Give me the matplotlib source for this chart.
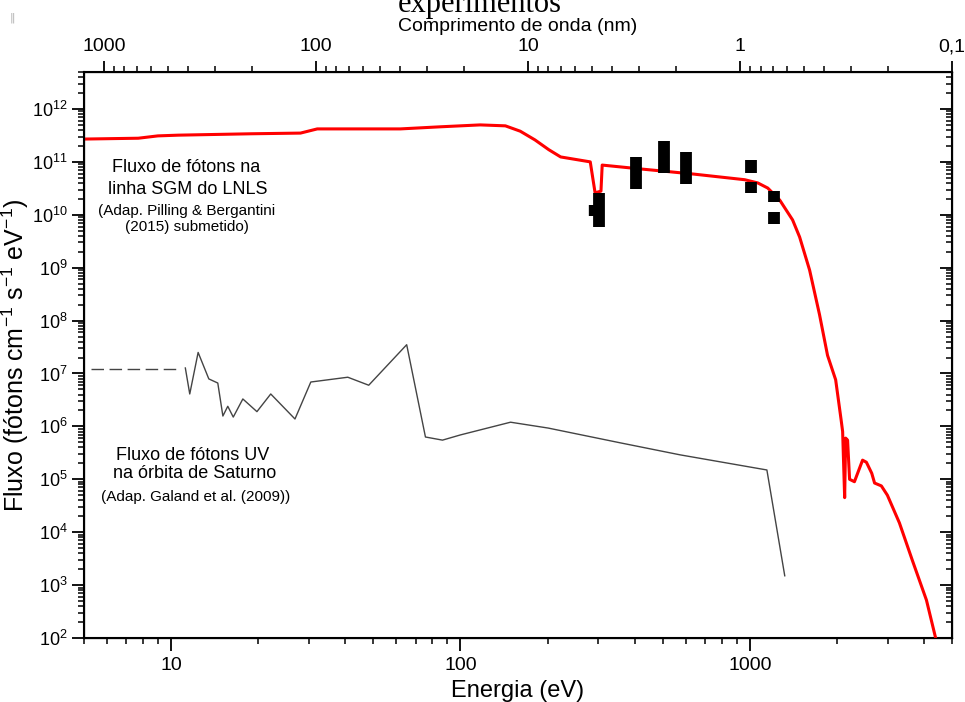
import matplotlib
matplotlib.use("Agg")
import matplotlib.pyplot as plt
from matplotlib.ticker import FixedLocator, FixedFormatter, LogLocator, NullFormatter

# Fluxo na linha SGM do LNLS (curva vermelha)
red_E = [5, 7.7, 9, 10.6, 19, 28, 32, 62, 85, 117, 143, 161, 181, 202, 222, 281,
         292, 306, 309, 425, 530, 636, 961, 1066, 1154, 1269, 1406, 1487, 1610,
         1742, 1857, 1981, 2070, 2094, 2128, 2145, 2178, 2213, 2300, 2454, 2530,
         2640, 2700, 2850, 2990, 3290, 3650, 4080, 4380, 4500]
red_F = [2.7e11, 2.8e11, 3.1e11, 3.2e11, 3.4e11, 3.5e11, 4.2e11, 4.2e11, 4.6e11,
         5.0e11, 4.8e11, 3.8e11, 2.6e11, 1.7e11, 1.24e11, 1.0e11, 2.6e10, 2.8e10,
         8.7e10, 7.3e10, 6.5e10, 5.9e10, 4.6e10, 4.0e10, 3.2e10, 1.9e10, 8e9,
         3.8e9, 9e8, 1.3e8, 2.2e7, 7.6e6, 1.3e6, 8e5, 4.5e4, 6e5, 5.5e5, 1e5, 9e4,
         2.3e5, 2.1e5, 1.3e5, 8.5e4, 7.5e4, 5e4, 1.5e4, 2.9e3, 520, 105, 60]

# Fluxo UV na órbita de Saturno (curva cinza)
sat_dash_E = [5.3, 10.8]
sat_dash_F = [1.2e7, 1.2e7]
sat_E = [11.2, 11.6, 12.4, 13.5, 14.5, 15.1, 15.7, 16.4, 17.7, 19.8, 22.1, 26.8,
         30.4, 40.8, 48.2, 65.2, 75.7, 86.7, 100, 149, 201, 356, 574, 1146, 1321]
sat_F = [1.27e7, 4.1e6, 2.5e7, 7.9e6, 6.6e6, 1.57e6, 2.4e6, 1.5e6, 3.3e6, 1.9e6,
         4.1e6, 1.38e6, 6.9e6, 8.5e6, 6.0e6, 3.5e7, 6.3e5, 5.5e5, 6.9e5, 1.2e6,
         9.3e5, 4.9e5, 2.9e5, 1.5e5, 1.5e3]

# barras pretas (experimentos)
bar_E = [288, 301, 404, 505, 601, 1007, 1007, 1210, 1210]
bar_lo = [9.5e9, 5.9e9, 3.1e10, 6.2e10, 3.8e10, 6.2e10, 2.6e10, 1.75e10, 6.7e9]
bar_hi = [1.53e10, 2.6e10, 1.24e11, 2.5e11, 1.54e11, 1.09e11, 4.2e10, 2.8e10, 1.13e10]

x_ticks = [10, 100, 1000]
x_labels = ["10", "100", "1000"]
top_ticks = [1000, 100, 10, 1, 0.1]
top_labels = ["1000", "100", "10", "1", "0,1"]

plt.rcParams["font.family"] = ["Liberation Sans", "DejaVu Sans"]
plt.rcParams["mathtext.fontset"] = "custom"
plt.rcParams["mathtext.rm"] = "Liberation Sans"
plt.rcParams["mathtext.it"] = "Liberation Sans:italic"
plt.rcParams["mathtext.bf"] = "Liberation Sans:bold"

W, H = 965, 702
fig = plt.figure(figsize=(W / 100, H / 100), dpi=100)
ax = fig.add_axes([84 / W, 1 - 638 / H, (952 - 84) / W, (638 - 72) / H])

ax.plot(sat_dash_E, sat_dash_F, color="#444444", lw=1.0, dashes=(9, 4))
ax.plot(sat_E, sat_F, color="#444444", lw=1.0)
ax.plot(red_E, red_F, color="#ff0000", lw=2.2, zorder=3)
ax.vlines(bar_E, bar_lo, bar_hi, colors="black",
          linewidths=[6, 8.5, 8.5, 8.5, 8.5, 8.5, 8.5, 8.5, 8.5], zorder=4)

ax.set_xscale("log")
ax.set_yscale("log")
ax.set_xlim(5, 5000)
ax.set_ylim(1e2, 5e12)

ax.xaxis.set_major_locator(FixedLocator(x_ticks))
ax.xaxis.set_major_formatter(FixedFormatter(x_labels))
ax.xaxis.set_minor_locator(LogLocator(base=10, subs=range(2, 10)))
ax.xaxis.set_minor_formatter(NullFormatter())
ax.yaxis.set_major_locator(LogLocator(base=10, numticks=20))
ax.yaxis.set_minor_locator(LogLocator(base=10, subs=range(2, 10), numticks=20))
ax.yaxis.set_minor_formatter(NullFormatter())

ax.tick_params(which="major", direction="out", length=9, width=1.3, labelsize=14, pad=5)
ax.tick_params(axis="y", which="major", labelsize=13, pad=3)
ax.tick_params(which="minor", direction="out", length=4.5, width=1.1)
for s in ax.spines.values():
    s.set_linewidth(1.5)

ax.set_xlabel("Energia (eV)", fontsize=17, labelpad=4)
ax.set_ylabel(r"Fluxo (fótons cm$^{-1}$ s$^{-1}$ eV$^{-1}$)", fontsize=18)
ax.yaxis.set_label_coords(-0.061, 0.5)

# eixo direito: ticks para dentro
axr = ax.twinx()
axr.set_yscale("log")
axr.set_ylim(ax.get_ylim())
axr.yaxis.set_major_locator(LogLocator(base=10, numticks=20))
axr.yaxis.set_minor_locator(LogLocator(base=10, subs=range(2, 10), numticks=20))
axr.tick_params(which="major", direction="in", length=9, width=1.3, labelright=False)
axr.tick_params(which="minor", direction="in", length=4.5, width=1.1)

# eixo superior: comprimento de onda
axt = ax.twiny()
axt.set_xscale("log")
axt.set_xlim(1240, 0.1)
axt.xaxis.set_major_locator(FixedLocator(top_ticks))
axt.xaxis.set_major_formatter(FixedFormatter(top_labels))
axt.xaxis.set_minor_locator(LogLocator(base=10, subs=range(2, 10)))
axt.xaxis.set_minor_formatter(NullFormatter())
axt.tick_params(which="major", direction="out", length=8, width=1.3, labelsize=14, pad=4)
axt.tick_params(which="minor", direction="out", length=4.5, width=1.1)
axt.set_xlabel("Comprimento de onda (nm)", fontsize=14, labelpad=5)

def ftext(x, y, s, size):
    fig.text(x / W, 1 - y / H, s, fontsize=size, ha="center", va="center")

ftext(186, 167, "Fluxo de fótons na", 13)
ftext(188, 189, "linha SGM do LNLS", 13)
ftext(187, 211, "(Adap. Pilling & Bergantini", 11)
ftext(187, 227, "(2015) submetido)", 11)
ftext(193, 455, "Fluxo de fótons UV", 13)
ftext(195, 474, "na órbita de Saturno", 13)
ftext(196, 497, "(Adap. Galand et al. (2009))", 11)

fig.text(480 / W, 1 - 12 / H, "experimentos", family="Liberation Serif",
         fontsize=22, ha="center", va="baseline")
fig.text(12 / W, 1 - 18 / H, "\u2016", family="DejaVu Sans", color="#b0b0b0",
         fontsize=8, ha="center", va="center")

fig.savefig("out.png", dpi=100)
